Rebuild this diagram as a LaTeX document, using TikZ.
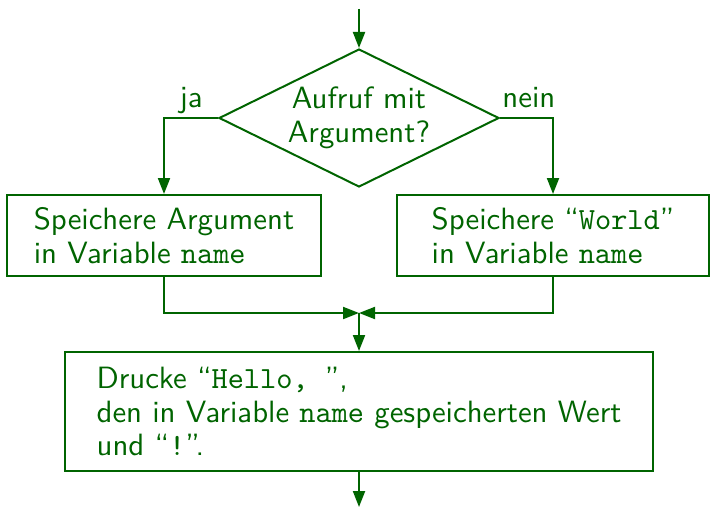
\documentclass[tikz,border=0pt]{standalone}
\usepackage{fontspec}
\setsansfont{lmsans10-regular}[Extension=.otf]
\setmonofont{lmmono10-regular}[Extension=.otf]
\usetikzlibrary{shapes.geometric,arrows.meta,calc}
\definecolor{dg}{RGB}{0,100,0}
\begin{document}
\begin{tikzpicture}[x=0.5pt,y=-0.5pt,
  every node/.style={text=dg,font=\sffamily\fontsize{15.4}{16.8}\selectfont},
  line/.style={draw=dg,line width=1pt},
  conn/.style={line,-{Triangle[length=8pt,width=6pt]}},
  box/.style={line,rectangle,align=left,inner sep=0pt},
  decision/.style={line,diamond,aspect=2.03,align=center,inner sep=0pt,minimum width=140pt,minimum height=69pt}]
\useasboundingbox (0,0) rectangle (710,508);
\node[decision] (d) at (359,118) {Aufruf mit\\Argument?};
\node[box,minimum width=157pt,minimum height=40.5pt] (lb) at (164,235.5)
  {Speichere Argument\\in Variable \texttt{name}};
\node[box,minimum width=156pt,minimum height=40.5pt] (rb) at (553,235.5)
  {Speichere “\texttt{World}”\\in Variable \texttt{name}};
\node[box,minimum width=294pt,minimum height=59.5pt] (pb) at (359,411.5)
  {Drucke “\texttt{Hello,~}”,\\den in Variable \texttt{name} gespeicherten Wert\\und “\texttt{!}”.};
\node[anchor=base east,inner sep=0pt] (ja) at ($(d.west)+(-15,-11)$) {ja};
\node[anchor=base west,inner sep=0pt] (nein) at ($(d.east)+(2,-11)$) {nein};
\coordinate (top) at (359,9);
\coordinate (m) at (359,313);
\coordinate (end) at (359,507);
\draw[conn] (top) -- (d.north);
\draw[conn] (d.west) -| (lb.north);
\draw[conn] (d.east) -| (rb.north);
\draw[conn] (lb.south) |- (m);
\draw[conn] (rb.south) |- (m);
\draw[conn] (m) -- (pb.north);
\draw[conn] (pb.south) -- (end);
\end{tikzpicture}
\end{document}
